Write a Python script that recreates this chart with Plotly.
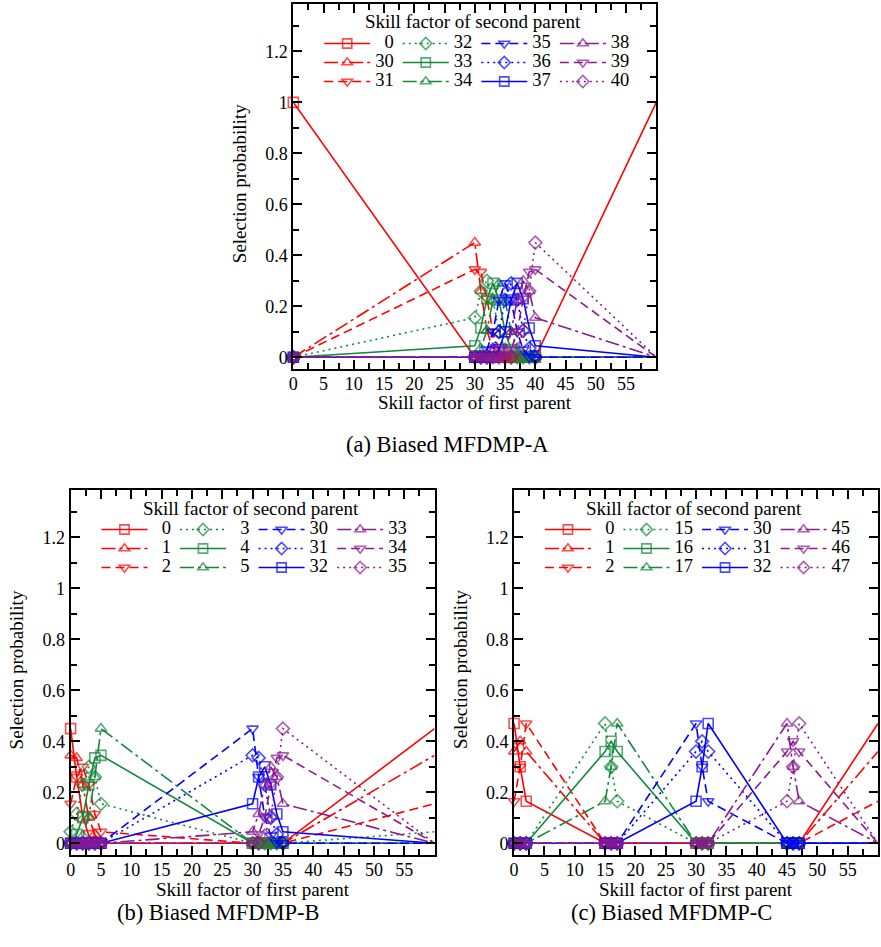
import plotly.graph_objects as go

W, H = 881, 947

# ---------------- data ----------------
# (a) Biased MFDMP-A
x_a = [0, 30, 31, 32, 33, 34, 35, 36, 37, 38, 39, 40, 60]
names_a = ["0", "30", "31", "32", "33", "34", "35", "36", "37", "38", "39", "40"]
a_s0 = [1, 0, 0, 0, 0, 0, 0, 0, 0, 0, 0, 0, 1]
a_s30 = [0, 0.45, 0.26, 0.105, 0.03, 0, 0, 0, 0, 0, 0, 0, 0]
a_s31 = [0, 0.345, 0.335, 0.23, 0.10, 0.03, 0, 0, 0, 0, 0, 0, 0]
a_s32 = [0, 0.155, 0.26, 0.30, 0.225, 0.10, 0.03, 0, 0, 0, 0, 0, 0]
a_s33 = [0, 0.045, 0.115, 0.23, 0.29, 0.225, 0.10, 0.03, 0, 0, 0, 0, 0]
a_s34 = [0, 0, 0.035, 0.105, 0.225, 0.29, 0.225, 0.10, 0.03, 0, 0, 0, 0]
a_s35 = [0, 0, 0, 0.03, 0.10, 0.225, 0.29, 0.225, 0.10, 0.03, 0, 0, 0]
a_s36 = [0, 0, 0, 0, 0.03, 0.10, 0.225, 0.29, 0.225, 0.105, 0.035, 0, 0]
a_s37 = [0, 0, 0, 0, 0, 0.03, 0.10, 0.225, 0.29, 0.23, 0.115, 0.045, 0]
a_s38 = [0, 0, 0, 0, 0, 0, 0.03, 0.10, 0.225, 0.30, 0.26, 0.155, 0]
a_s39 = [0, 0, 0, 0, 0, 0, 0, 0.03, 0.10, 0.23, 0.335, 0.345, 0]
a_s40 = [0, 0, 0, 0, 0, 0, 0, 0, 0.03, 0.105, 0.26, 0.45, 0]

# (b) Biased MFDMP-B
x_b = [0, 1, 2, 3, 4, 5, 30, 31, 32, 33, 34, 35, 60]
names_b = ["0", "1", "2", "3", "4", "5", "30", "31", "32", "33", "34", "35"]
b_s0 = [0.45, 0.26, 0.105, 0.03, 0, 0, 0, 0, 0, 0, 0, 0, 0.45]
b_s1 = [0.345, 0.335, 0.23, 0.10, 0.035, 0, 0, 0, 0, 0, 0, 0, 0.345]
b_s2 = [0.155, 0.26, 0.30, 0.23, 0.115, 0.045, 0, 0, 0, 0, 0, 0, 0.155]
b_s3 = [0.045, 0.115, 0.23, 0.30, 0.26, 0.155, 0, 0, 0, 0, 0, 0, 0.045]
b_s4 = [0, 0.035, 0.10, 0.23, 0.335, 0.345, 0, 0, 0, 0, 0, 0, 0]
b_s5 = [0, 0, 0.03, 0.105, 0.26, 0.45, 0, 0, 0, 0, 0, 0, 0]
b_s30 = [0, 0, 0, 0, 0, 0, 0.45, 0.26, 0.105, 0.03, 0, 0, 0]
b_s31 = [0, 0, 0, 0, 0, 0, 0.345, 0.335, 0.23, 0.10, 0.035, 0, 0]
b_s32 = [0, 0, 0, 0, 0, 0, 0.155, 0.26, 0.30, 0.23, 0.115, 0.045, 0]
b_s33 = [0, 0, 0, 0, 0, 0, 0.045, 0.115, 0.23, 0.30, 0.26, 0.155, 0]
b_s34 = [0, 0, 0, 0, 0, 0, 0, 0.035, 0.10, 0.23, 0.335, 0.345, 0]
b_s35 = [0, 0, 0, 0, 0, 0, 0, 0, 0.03, 0.105, 0.26, 0.45, 0]

# (c) Biased MFDMP-C
x_c = [0, 1, 2, 15, 16, 17, 30, 31, 32, 45, 46, 47, 60]
names_c = ["0", "1", "2", "15", "16", "17", "30", "31", "32", "45", "46", "47"]
c_s0 = [0.47, 0.30, 0.165, 0, 0, 0, 0, 0, 0, 0, 0, 0, 0.47]
c_s1 = [0.36, 0.40, 0.36, 0, 0, 0, 0, 0, 0, 0, 0, 0, 0.36]
c_s2 = [0.165, 0.30, 0.47, 0, 0, 0, 0, 0, 0, 0, 0, 0, 0.165]
c_s15 = [0, 0, 0, 0.47, 0.30, 0.165, 0, 0, 0, 0, 0, 0, 0]
c_s16 = [0, 0, 0, 0.36, 0.40, 0.36, 0, 0, 0, 0, 0, 0, 0]
c_s17 = [0, 0, 0, 0.165, 0.30, 0.47, 0, 0, 0, 0, 0, 0, 0]
c_s30 = [0, 0, 0, 0, 0, 0, 0.47, 0.30, 0.165, 0, 0, 0, 0]
c_s31 = [0, 0, 0, 0, 0, 0, 0.36, 0.40, 0.36, 0, 0, 0, 0]
c_s32 = [0, 0, 0, 0, 0, 0, 0.165, 0.30, 0.47, 0, 0, 0, 0]
c_s45 = [0, 0, 0, 0, 0, 0, 0, 0, 0, 0.47, 0.30, 0.165, 0]
c_s46 = [0, 0, 0, 0, 0, 0, 0, 0, 0, 0.36, 0.40, 0.36, 0]
c_s47 = [0, 0, 0, 0, 0, 0, 0, 0, 0, 0.165, 0.30, 0.47, 0]

x_tick_vals = [0, 5, 10, 15, 20, 25, 30, 35, 40, 45, 50, 55]
y_tick_vals = [0, 0.2, 0.4, 0.6, 0.8, 1.0, 1.2]
y_tick_text = ["0", "0.2", "0.4", "0.6", "0.8", "1", "1.2"]

captions = ["(a) Biased MFDMP-A", "(b) Biased MFDMP-B", "(c) Biased MFDMP-C"]
legend_title = "Skill factor of second parent"
x_title = "Skill factor of first parent"
y_title = "Selection probability"

# ---------------- styling ----------------
FONT = "Liberation Serif"
colors = ["#ff0000", "#12883a", "#0000ff", "#8a1a90"]
symbols = ["square-open", "triangle-up-open", "triangle-down-open", "diamond-open"]
dashes = ["solid", "14px,4px,3px,4px", "9px,5px", "2px,4px"]
MS = 10

# frames in pixels: (left, top, right, bottom)
frames = [(290, 4, 655, 369), (66, 490, 432, 855), (512, 490, 878, 855)]
caption_pos = [(445, 444), (215, 912), (670, 912)]

panels = [
    (x_a, names_a, [a_s0, a_s30, a_s31, a_s32, a_s33, a_s34, a_s35, a_s36, a_s37, a_s38, a_s39, a_s40]),
    (x_b, names_b, [b_s0, b_s1, b_s2, b_s3, b_s4, b_s5, b_s30, b_s31, b_s32, b_s33, b_s34, b_s35]),
    (x_c, names_c, [c_s0, c_s1, c_s2, c_s15, c_s16, c_s17, c_s30, c_s31, c_s32, c_s45, c_s46, c_s47]),
]


def px(xp):
    return xp / W


def py(yp):
    return 1 - yp / H


fig = go.Figure()
layout = dict(
    width=W, height=H, autosize=False,
    margin=dict(l=0, r=0, t=0, b=0),
    paper_bgcolor="white", plot_bgcolor="white",
    font=dict(family=FONT, size=18, color="black"),
    showlegend=True,
    annotations=[],
)

for p, (xs, names, series) in enumerate(panels):
    L, T, R, B = frames[p]
    sfx = "" if p == 0 else str(p + 1)
    xa, ya = "x" + sfx, "y" + sfx
    axis_common = dict(
        showline=True, linewidth=2, linecolor="black", mirror="allticks",
        ticks="inside", tickwidth=1.5, tickcolor="black", ticklen=9,
        showgrid=False, zeroline=False, tickfont=dict(family=FONT, size=18),
        fixedrange=True,
    )
    layout["xaxis" + sfx] = dict(
        axis_common, domain=[px(L), px(R)], range=[0, 60], anchor=ya,
        tickmode="array", tickvals=x_tick_vals, ticklabelstandoff=-3,
        minor=dict(ticks="inside", ticklen=6, tickwidth=1.5, tickcolor="black",
                   dtick=2.5, tick0=0, showgrid=False),
    )
    layout["yaxis" + sfx] = dict(
        axis_common, domain=[py(B), py(T)], range=[-0.046, 1.386], anchor=xa,
        tickmode="array", tickvals=y_tick_vals, ticktext=y_tick_text,
        minor=dict(ticks="inside", ticklen=6, tickwidth=1.5, tickcolor="black",
                   dtick=0.1, tick0=0, showgrid=False),
    )

    for i, (nm, ys) in enumerate(zip(names, series)):
        col = colors[i // 3]
        lg_index = p * 4 + i // 3 + 1
        lg = "legend" if lg_index == 1 else "legend%d" % lg_index
        lab = nm if len(nm) == 2 else "\u2007" + nm
        sizes = [MS] * (len(xs) - 1) + [0]
        fig.add_trace(go.Scatter(
            x=xs, y=ys, xaxis=xa, yaxis=ya, mode="lines+markers",
            name='<span style="font-size:18.5px">%s</span>' % lab,
            legend=lg, cliponaxis=False, hoverinfo="skip",
            line=dict(color=col, width=1.6, dash=dashes[i % 4]),
            marker=dict(symbol=symbols[i % 4], size=sizes, color=col,
                        line=dict(color=col, width=1.6)),
        ))

    # legends: 4 columns x 3 rows
    for c in range(4):
        lg_index = p * 4 + c + 1
        key = "legend" if lg_index == 1 else "legend%d" % lg_index
        layout[key] = dict(
            x=px(L + 50 + 79 * c - 24), y=py(T + 25),
            xanchor="left", yanchor="top",
            bgcolor="rgba(0,0,0,0)", borderwidth=0,
            font=dict(family=FONT, size=12, color="black"),
            itemwidth=46, tracegroupgap=0, traceorder="normal",
            itemclick=False, itemdoubleclick=False,
        )

    cx = (L + R) / 2
    layout["annotations"] += [
        dict(text=legend_title, x=px(L + 181), y=py(T + 18), xref="paper", yref="paper",
             showarrow=False, xanchor="center", yanchor="middle",
             font=dict(family=FONT, size=19)),
        dict(text=x_title, x=px(cx), y=py(B + 34), xref="paper", yref="paper",
             showarrow=False, xanchor="center", yanchor="middle",
             font=dict(family=FONT, size=19)),
        dict(text=y_title, x=px(L - 54), y=py((T + B) / 2 - 3), xref="paper", yref="paper",
             showarrow=False, xanchor="center", yanchor="middle", textangle=-90,
             font=dict(family=FONT, size=19)),
        dict(text=captions[p], x=px(caption_pos[p][0]), y=py(caption_pos[p][1]),
             xref="paper", yref="paper",
             showarrow=False, xanchor="center", yanchor="middle",
             font=dict(family=FONT, size=22.5)),
    ]

fig.update_layout(**layout)
fig.write_html("out.html")
